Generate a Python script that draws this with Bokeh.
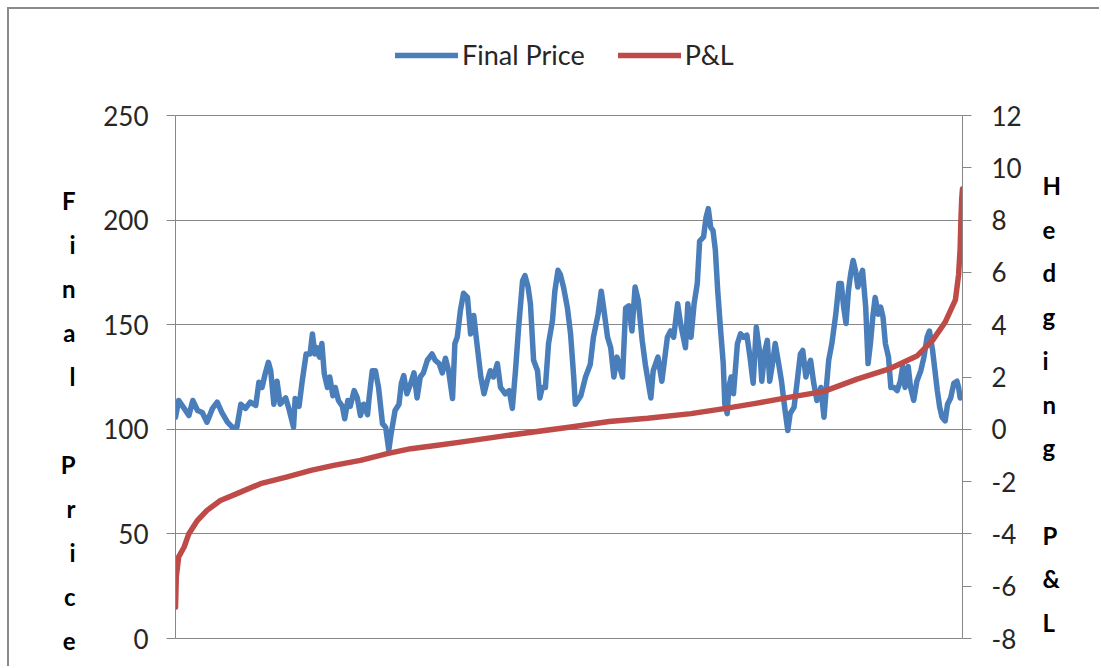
from bokeh.plotting import figure
from bokeh.models import Range1d, LinearAxis, FixedTicker, Legend, LegendItem
from bokeh.embed import file_html
from bokeh.resources import INLINE

# ---------------- data ----------------
price_idx = [
    0, 4, 11, 17, 22, 28, 34, 40, 47, 53,
    59, 66, 72, 78, 83, 89, 95, 102, 106, 110,
    114, 118, 121, 125, 129, 133, 140, 144, 150, 152,
    157, 161, 166, 171, 174, 177, 180, 183, 186, 189,
    193, 196, 200, 203, 207, 212, 215, 219, 222, 227,
    231, 235, 239, 244, 246, 250, 254, 258, 263, 267,
    271, 274, 279, 284, 287, 290, 294, 299, 303, 307,
    311, 315, 320, 326, 330, 335, 339, 343, 347, 352,
    355, 358, 362, 366, 371, 375, 379, 383, 388, 392,
    396, 400, 404, 409, 413, 419, 424, 428, 432, 436,
    441, 444, 448, 451, 455, 460, 463, 466, 470, 474,
    479, 482, 486, 489, 493, 498, 502, 506, 508, 515,
    521, 527, 531, 537, 541, 544, 549, 553, 557, 561,
    568, 572, 576, 580, 584, 588, 593, 597, 604, 607,
    613, 618, 625, 629, 633, 638, 642, 648, 651, 655,
    659, 663, 666, 671, 674, 677, 680, 683, 686, 689,
    692, 696, 698, 701, 703, 706, 709, 714, 718, 722,
    726, 730, 734, 738, 743, 745, 749, 752, 755, 758,
    762, 767, 770, 774, 778, 781, 786, 790, 794, 797,
    801, 804, 807, 811, 815, 820, 824, 827, 830, 834,
    839, 843, 846, 849, 852, 855, 858, 861, 864, 867,
    870, 873, 877, 880, 883, 886, 889, 893, 896, 899,
    902, 906, 909, 913, 917, 921, 924, 927, 931, 934,
    938, 942, 947, 951, 955, 958, 962, 965, 968, 971,
    974, 978, 981, 985, 989, 993, 995, 997,
]
final_price = [
    105.8, 113.8, 110, 106.6, 113.8, 109, 108, 103.4, 110, 113,
    108, 103.4, 101, 101, 112, 110, 113, 111.4, 122.5, 120,
    126.6, 132, 128, 112, 123, 112, 115, 110, 101, 114.7,
    111, 123, 136, 136, 145.6, 136, 139, 134.5, 141, 126.6,
    120, 125, 116, 120, 113.8, 111, 105, 113.8, 111, 118.5,
    115, 106.6, 112, 107, 115, 128, 128, 120, 102.7, 101,
    90, 98, 109, 112, 122, 125.7, 117, 122, 127, 115,
    125, 127, 133, 136, 133, 131.4, 127, 134, 128, 114.7,
    141, 144, 156.8, 165, 163, 145.6, 154.4, 141, 125, 117,
    123, 128, 125, 131.4, 120, 117, 118.5, 110, 128, 148.8,
    171, 173.5, 168, 160, 133, 128, 115, 120, 120, 141,
    152, 166, 176, 174, 168, 158, 145.6, 125, 112, 116,
    125, 131, 144, 155, 166, 158, 144, 139, 125, 134.5,
    125, 158, 159, 147, 168, 161.6, 142.5, 131, 115, 128,
    134.5, 123, 144, 147, 144, 160, 150, 139, 160, 144,
    160, 169.7, 190, 192, 201, 205.5, 196.6, 195, 185.5, 166,
    150.6, 131.4, 112, 107.5, 120, 125, 117, 141, 145.6, 144,
    145, 134.5, 122, 148.8, 134.5, 123, 137.7, 142.5, 123, 130,
    141, 130, 123, 110.6, 99.4, 107.5, 110.6, 123, 136, 137.7,
    125, 130, 133, 122, 113.8, 120, 105.8, 120, 133, 141,
    155, 169.7, 169.7, 158.4, 150.6, 166, 174.5, 180.7, 176, 168,
    172.7, 176, 158.4, 131.4, 141, 153.6, 163, 155, 158.4, 153.6,
    141, 134.5, 120, 120, 118.5, 123, 130, 120, 130, 120,
    113.8, 123, 128, 134.5, 144, 147, 137.7, 128, 118.5, 110.6,
    105.8, 104, 112, 115, 122, 123, 120, 115,
]
pl_idx = [0, 1, 4, 11, 17, 28, 40, 57, 78, 108,
          142, 172, 201, 235, 269, 299, 333, 362, 413, 500,
          551, 600, 655, 697, 739, 781, 824, 866, 906, 942,
          962, 978, 991, 995, 997, 998, 999, 1000]
hedging_pl = [-6.8, -5.65, -4.88, -4.5, -3.99, -3.48, -3.1, -2.72, -2.46, -2.08,
              -1.82, -1.57, -1.38, -1.19, -0.93, -0.74, -0.61, -0.49, -0.27, 0.08,
              0.3, 0.42, 0.6, 0.79, 1.0, 1.23, 1.45, 1.92, 2.3, 2.8,
              3.4, 4.1, 4.95, 5.9, 6.9, 8.0, 8.8, 9.2]
price_ticks = [0, 50, 100, 150, 200, 250]
pl_ticks = [-8, -6, -4, -2, 0, 2, 4, 6, 8, 10, 12]
series_names = ["Final Price", "P&L"]
left_title = "Final Price"
right_title = "Hedging P&L"

assert len(price_idx) == len(final_price)
assert len(pl_idx) == len(hedging_pl)

# ---------------- layout (page pixels) ----------------
BLUE = "#4A7EBB"
RED = "#BE4B48"
GRID = "#878787"
TXT = "#262626"
FONT = "Lato"

OFF = 9                      # chart area starts 9px in (2px border above/left)
F_L, F_R = 175, 962          # frame left/right on page
F_T, F_B = 20, 655           # frame top/bottom on page (extended)
Y0_PX, Y250_PX = 638, 115    # where 0 and 250 sit on the page
W, H = 1101 - OFF, 668 - OFF

P0, P1 = price_ticks[0], price_ticks[-1]
Q0, Q1 = pl_ticks[0], pl_ticks[-1]
ppx = (P1 - P0) / (Y0_PX - Y250_PX)
qpx = (Q1 - Q0) / (Y0_PX - Y250_PX)
y_lo, y_hi = P0 - (F_B - Y0_PX) * ppx, P0 + (Y0_PX - F_T) * ppx
q_lo, q_hi = Q0 - (F_B - Y0_PX) * qpx, Q0 + (Y0_PX - F_T) * qpx

p = figure(width=W, height=H,
           x_range=Range1d(0, 1000), y_range=Range1d(y_lo, y_hi),
           output_backend="svg", toolbar_location=None,
           min_border_left=F_L - OFF, min_border_right=W - (F_R - OFF),
           min_border_top=F_T - OFF, min_border_bottom=H - (F_B - OFF),
           background_fill_color="white", border_fill_color="white",
           styles={"margin-left": "%dpx" % OFF, "margin-top": "%dpx" % OFF,
                   "box-shadow": "-2px -2px 0 0 #8a8a8a"})
p.outline_line_color = None
p.xaxis.visible = False
p.xgrid.visible = False

p.ygrid.ticker = FixedTicker(ticks=price_ticks)
p.ygrid.grid_line_color = GRID
p.ygrid.grid_line_width = 1


def style_axis(ax, standoff):
    ax.axis_line_color = GRID
    ax.major_tick_line_color = GRID
    ax.major_tick_out = 9
    ax.major_tick_in = 0
    ax.minor_tick_line_color = None
    ax.major_label_standoff = standoff
    ax.major_label_text_font = FONT
    ax.major_label_text_font_size = "26px"
    ax.major_label_text_color = TXT


ly = p.yaxis[0]
ly.ticker = FixedTicker(ticks=price_ticks)
ly.bounds = (P0, P1)
style_axis(ly, 18)

p.extra_y_ranges = {"pl": Range1d(q_lo, q_hi),
                    "pix": Range1d(F_B, F_T)}
ry = LinearAxis(y_range_name="pl", ticker=FixedTicker(ticks=pl_ticks),
                bounds=(Q0, Q1),
                major_label_overrides={t: str(t) for t in pl_ticks})
style_axis(ry, 20)
p.add_layout(ry, "right")


# stacked axis titles: one bold letter per line, as labels of bare axes
def title_axis(title, y_first, step, standoff):
    pos, over = [], {}
    for k, ch in enumerate(title):
        if ch == " ":
            continue
        y = int(round(y_first + step * k))
        pos.append(y)
        over[y] = ch
    ax = LinearAxis(y_range_name="pix", ticker=FixedTicker(ticks=pos),
                    major_label_overrides=over)
    ax.axis_line_color = None
    ax.major_tick_line_color = None
    ax.minor_tick_line_color = None
    ax.major_tick_out = 0
    ax.major_tick_in = 0
    ax.major_label_standoff = standoff
    ax.major_label_text_align = "center"
    ax.major_label_text_font = FONT
    ax.major_label_text_font_style = "bold"
    ax.major_label_text_font_size = "24px"
    ax.major_label_text_color = "#000000"
    return ax


p.add_layout(title_axis(left_title, 200, 44.0, 25), "left")
p.add_layout(title_axis(right_title, 185, 43.7, 18), "right")

r1 = p.line(price_idx, final_price, line_color=BLUE, line_width=5.5,
            line_join="round", line_cap="round")
r2 = p.line(pl_idx, hedging_pl, y_range_name="pl", line_color=RED,
            line_width=5.5, line_join="round", line_cap="round")

legend = Legend(items=[LegendItem(label=series_names[0], renderers=[r1]),
                       LegendItem(label=series_names[1], renderers=[r2])],
                orientation="horizontal",
                location=(220, (F_B - 55) - 16),
                border_line_color=None, background_fill_alpha=0,
                padding=0, margin=0, glyph_width=63, glyph_height=20,
                label_standoff=4, spacing=33,
                label_text_font=FONT, label_text_font_size="27px",
                label_text_color=TXT)
p.add_layout(legend)

open("out.html", "w").write(file_html(p, INLINE))
